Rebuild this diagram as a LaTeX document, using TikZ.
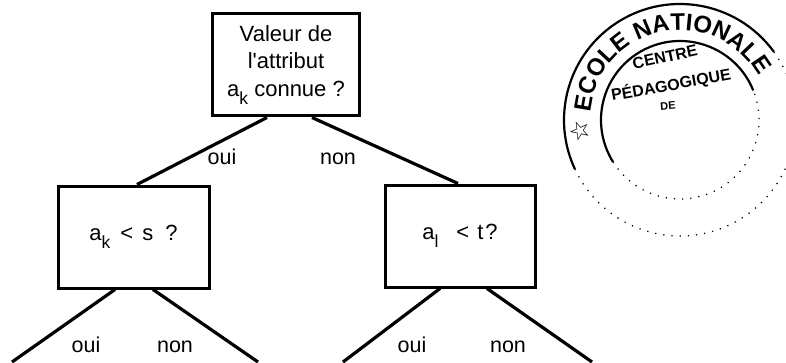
\documentclass[tikz,border=0pt]{standalone}
\usepackage{fontspec}
\setmainfont{Liberation Sans}
\newfontfamily\symfont{DejaVu Sans}
\usetikzlibrary{calc,decorations.text}
\newcommand{\lowsub}[1]{\raisebox{-8pt}{\fontsize{17.5}{17.5}\selectfont #1}}
\begin{document}
\begin{tikzpicture}[x=1pt,y=1pt,
  box/.style={draw, line width=3pt, align=center, inner sep=0pt,
    font=\fontsize{22}{27.5}\selectfont},
  edge/.style={line width=3.2pt},
  lbl/.style={font=\fontsize{21.5}{21.5}\selectfont, inner sep=0pt, anchor=base},
  ring/.style={line width=2.2pt},
  faint/.style={line width=1.3pt, dash pattern=on 1.2pt off 7pt},
  stamptxt/.style={font=\fontsize{16}{16}\selectfont\bfseries, inner sep=0pt}]
\useasboundingbox (0,0) rectangle (786,362);
\fill[white] (0,0) rectangle (786,362);

% decision boxes
\node[box, minimum width=147pt, minimum height=102pt] (top) at (286,297)
  {Valeur de\\l\textquotesingle attribut\\a\lowsub{k} connue ?};
\node[box, minimum width=151pt, minimum height=102pt] (left) at (133.5,125)
  {a\lowsub{k}\hspace{10pt}<\hspace{9pt}s\hspace{12pt}?};
\node[box, minimum width=150pt, minimum height=102pt] (right) at (460,126)
  {a\lowsub{l}\hspace{18pt}<\hspace{8pt}t\hspace{2pt}?};

% free ends of the lower branches
\coordinate (l1) at (12,0);
\coordinate (l2) at (258,0);
\coordinate (r1) at (343,0);
\coordinate (r2) at (592,0);

% connectors
\draw[edge] ($(top.south)+(-19,0)$) -- ($(left.north)+(3.5,0)$);
\draw[edge] ($(top.south)+(26,0)$) -- ($(right.north)+(-2,0)$);
\draw[edge] ($(left.south)+(-18.5,0)$) -- (l1);
\draw[edge] ($(left.south)+(19.5,0)$) -- (l2);
\draw[edge] ($(right.south)+(-20,0)$) -- (r1);
\draw[edge] ($(right.south)+(27,0)$) -- (r2);

% branch labels
\node[lbl] (o1) at (222,198) {oui};
\node[lbl] (n1) at (338,198) {non};
\node[lbl] (o2) at (86,10) {oui};
\node[lbl] (n2) at (175,10) {non};
\node[lbl] (o3) at (412,10) {oui};
\node[lbl] (n3) at (508,10) {non};

% stamp
\coordinate (S) at (680,242);
\draw[ring] ($(S)+(36:116)$) arc[start angle=36, end angle=205, radius=116];
\draw[faint] ($(S)+(205:116)$) arc[start angle=205, end angle=396, radius=116];
\draw[ring] ($(S)+(22:79)$) arc[start angle=22, end angle=212, radius=79];
\draw[faint] ($(S)+(212:79)$) arc[start angle=212, end angle=382, radius=79];
\path[decorate, decoration={text along path, text align=fit to path,
    text={|\fontsize{24}{24}\selectfont\bfseries|ECOLE NATIONALE}}]
  ($(S)+(175:90)$) arc[start angle=175, end angle=31, radius=90];
\node[stamptxt, rotate=12] (centre) at (665,305) {CENTRE};
\node[stamptxt, rotate=10] (peda) at (671,277) {PÉDAGOGIQUE};
\node[stamptxt, font=\fontsize{11}{11}\selectfont\bfseries, rotate=5] (de) at (668,256) {DE};
\node[inner sep=0pt, rotate=96, font=\symfont\bfseries\fontsize{25}{25}\selectfont] (star) at (579,231) {☆};
\end{tikzpicture}
\end{document}
